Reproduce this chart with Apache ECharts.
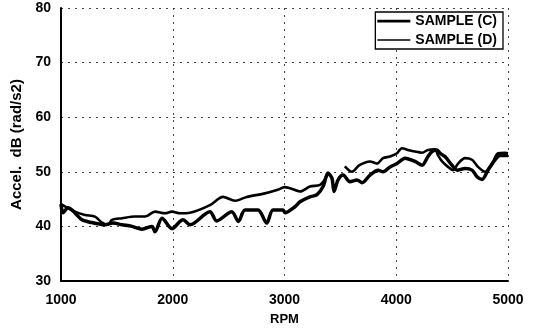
<!DOCTYPE html>
<html>
<head>
<meta charset="utf-8">
<script src="https://cdn.jsdelivr.net/npm/echarts@6/dist/echarts.min.js"></script>
<style>html,body{margin:0;padding:0;background:#fff}#c{width:536px;height:331px}</style>
</head>
<body>
<div id="c"></div>
<script>
var seriesNames = ['SAMPLE (C)', 'SAMPLE (D)'];
var xTicks = [1000, 2000, 3000, 4000, 5000];
var yTicks = [30, 40, 50, 60, 70, 80];

var rpmC = [1000,1018,1063,1188,1277,1394,1465,1546,1635,1725,1814,1841,1904,1993,2065,2092,2154,2333,2393,2528,2587,2647,2763,2841,2897,2987,3004,3094,3139,3228,3291,3345,3389,3425,3443,3479,3524,3586,3649,3694,3765,3837,3882,3944,4007,4078,4168,4231,4284,4320,4365,4392,4436,4499,4544,4615,4678,4723,4768,4821,4884,4929,5000];
var valC = [44.1,42.5,43.4,41.2,40.7,40.3,40.6,40.3,40.0,39.5,40.0,39.0,41.5,39.6,40.9,41.2,40.3,42.7,41.0,42.7,40.9,43.0,43.0,40.6,43.0,43.0,42.5,43.6,44.5,45.4,45.8,47.3,49.8,48.8,46.4,48.5,49.4,48.2,48.5,48.0,49.4,50.3,50.0,50.9,51.5,52.5,51.9,51.2,52.8,53.7,54.0,53.4,52.8,51.2,50.3,50.6,50.3,49.1,48.6,50.3,52.2,53.0,53.0];

var rpmD = [1000,1125,1215,1304,1367,1420,1456,1546,1662,1752,1841,1931,1993,2065,2154,2333,2450,2557,2662,2815,2940,3000,3049,3139,3228,3318,3362,3389,3460,3540,3604,3670,3765,3828,3882,3944,4007,4030,4051,4105,4168,4231,4284,4347,4374,4410,4463,4508,4553,4615,4678,4732,4794,4857,4911,4973,5000];
var valD = [44.1,42.7,42.1,41.8,40.7,40.3,41.2,41.5,41.8,41.8,42.7,42.4,42.7,42.4,42.5,43.9,45.4,44.7,45.4,46.0,46.7,47.2,47.0,46.4,47.3,47.6,48.6,49.6,null,51.0,50.0,51.2,51.9,51.5,52.5,52.8,53.4,54.0,54.3,54.0,53.7,53.5,54.0,54.1,53.0,51.9,50.9,50.3,51.5,52.5,52.2,50.9,50.0,51.5,53.4,53.5,53.4];

function pairs(xs, ys) { return xs.map(function (x, i) { return [x, ys[i] == null ? '-' : ys[i]]; }); }

var FONT = 'Liberation Sans';
var chart = echarts.init(document.getElementById('c'), null, {renderer: 'canvas'});
chart.setOption({
  animation: false,
  backgroundColor: '#fff',
  grid: {left: 61, right: 28, top: 8, bottom: 50},
  legend: {
    orient: 'vertical', right: 33, top: 12,
    data: [
      {name: seriesNames[0], icon: 'path://M0,0H36V3H0Z'},
      {name: seriesNames[1], icon: 'path://M0,0H36V1.6H0Z'}
    ],
    itemWidth: 33, itemHeight: 3, itemGap: 5, symbolKeepAspect: true,
    padding: [2, 6, 2, 2],
    borderColor: '#000', borderWidth: 1.3, borderRadius: 0,
    backgroundColor: '#fff',
    textStyle: {fontFamily: FONT, fontWeight: 'bold', fontSize: 14, color: '#000', padding: [0, 0, 0, 0]}
  },
  xAxis: {
    type: 'value', min: xTicks[0], max: xTicks[xTicks.length - 1], interval: 1000,
    name: 'RPM', nameLocation: 'middle', nameGap: 32,
    nameTextStyle: {fontFamily: FONT, fontWeight: 'bold', fontSize: 13, color: '#000'},
    axisLine: {show: true, lineStyle: {color: '#000', width: 2}},
    axisTick: {show: false},
    axisLabel: {fontFamily: FONT, fontWeight: 'bold', fontSize: 14, color: '#000', margin: 12,
                formatter: function (v) { return String(v); }},
    splitLine: {show: true, lineStyle: {color: '#444', type: [2, 5], width: 1}}
  },
  yAxis: {
    type: 'value', min: yTicks[0], max: yTicks[yTicks.length - 1], interval: 10,
    name: 'Accel.  dB (rad/s2)', nameLocation: 'middle', nameGap: 31,
    nameTextStyle: {fontFamily: FONT, fontWeight: 'bold', fontSize: 15, color: '#000'},
    axisLine: {show: true, lineStyle: {color: '#000', width: 2}},
    axisTick: {show: false},
    axisLabel: {fontFamily: FONT, fontWeight: 'bold', fontSize: 14, color: '#000', margin: 10},
    splitLine: {show: true, lineStyle: {color: '#444', type: [2, 5], width: 1}}
  },
  series: [
    {name: seriesNames[0], type: 'line', data: pairs(rpmC, valC), symbol: 'none', smooth: 0.3,
     lineStyle: {color: '#000', width: 3.5}, itemStyle: {color: '#000'}},
    {name: seriesNames[1], type: 'line', data: pairs(rpmD, valD), symbol: 'none', smooth: 0.3,
     connectNulls: false,
     lineStyle: {color: '#000', width: 2.6}, itemStyle: {color: '#000'}}
  ]
});
</script>
</body>
</html>
